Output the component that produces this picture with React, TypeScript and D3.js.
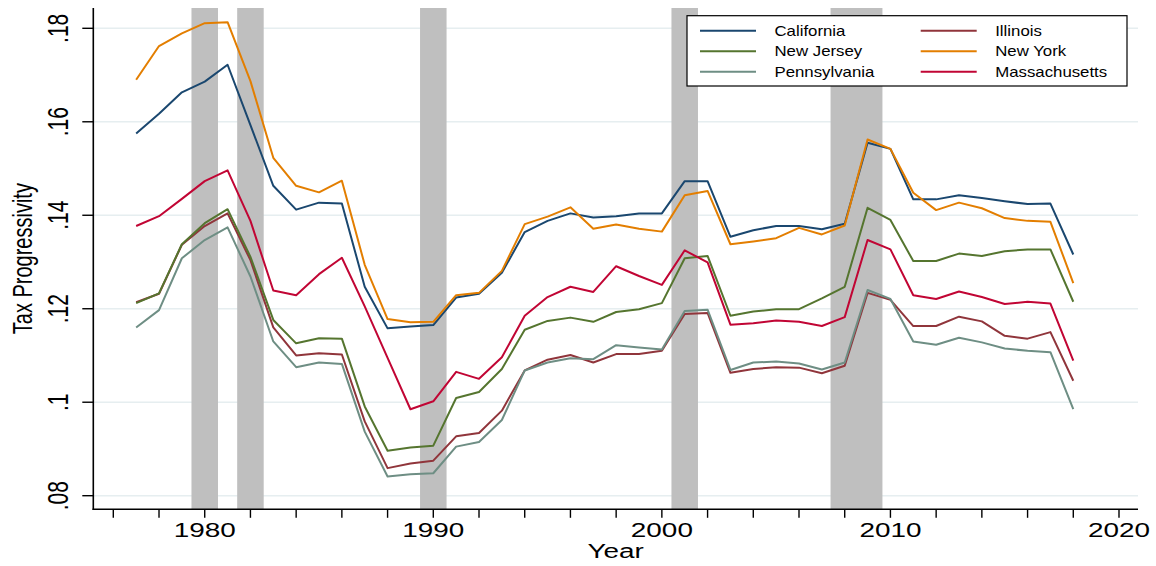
import React from "react";
import * as d3 from "d3";

const years: number[] = d3.range(1977, 2019);

const california = [
  0.1575, 0.1617, 0.1663, 0.1686, 0.1722, 0.1593, 0.1463, 0.1412, 0.1427, 0.1425,
  0.1247, 0.1158, 0.1162, 0.1165, 0.1224, 0.1232, 0.1277, 0.1364, 0.1388, 0.1404,
  0.1395, 0.1398, 0.1404, 0.1404, 0.1473, 0.1473, 0.1354, 0.1368, 0.1377, 0.1377,
  0.137, 0.1382, 0.1555, 0.1542, 0.1434, 0.1434, 0.1443, 0.1437, 0.143, 0.1424,
  0.1425, 0.1316,
];
const illinois = [
  0.1214, 0.1232, 0.1337, 0.1377, 0.1404, 0.1304, 0.116, 0.11, 0.1105, 0.1102,
  0.0959, 0.0859, 0.0869, 0.0875, 0.0927, 0.0934, 0.0982, 0.1068, 0.1091, 0.1101,
  0.1085, 0.1103, 0.1103, 0.111, 0.1189, 0.1191, 0.1063, 0.1071, 0.1075, 0.1074,
  0.1062, 0.1078, 0.1234, 0.1219, 0.1163, 0.1163, 0.1183, 0.1173, 0.1142, 0.1136,
  0.115, 0.1046,
];
const newJersey = [
  0.1212, 0.1233, 0.1338, 0.1383, 0.1413, 0.1311, 0.1176, 0.1126, 0.1137, 0.1136,
  0.0991, 0.0896, 0.0903, 0.0907, 0.1009, 0.1022, 0.1071, 0.1155, 0.1174, 0.1181,
  0.1172, 0.1193, 0.1199, 0.1212, 0.1308, 0.1313, 0.1185, 0.1194, 0.1199, 0.1199,
  0.1222, 0.1247, 0.1416, 0.139, 0.1302, 0.1302, 0.1318, 0.1313, 0.1323, 0.1327,
  0.1327, 0.1215,
];
const newYork = [
  0.169, 0.1762, 0.1789, 0.1811, 0.1813, 0.1687, 0.1523, 0.1463, 0.1449, 0.1474,
  0.1294, 0.1178, 0.1171, 0.1172, 0.1229, 0.1234, 0.1281, 0.1381, 0.1397, 0.1417,
  0.1371, 0.138, 0.1371, 0.1365, 0.1443, 0.1452, 0.1338, 0.1344, 0.1351, 0.1373,
  0.1359, 0.1378, 0.1562, 0.1542, 0.1448, 0.1411, 0.1427, 0.1415, 0.1394, 0.1388,
  0.1386, 0.1255,
];
const pennsylvania = [
  0.116, 0.1197, 0.1308, 0.1347, 0.1374, 0.1269, 0.113, 0.1075, 0.1085, 0.1082,
  0.0937, 0.0841, 0.0846, 0.0848, 0.0905, 0.0915, 0.0962, 0.1068, 0.1085, 0.1094,
  0.1092, 0.1122, 0.1117, 0.1113, 0.1195, 0.1198, 0.1069, 0.1085, 0.1087, 0.1083,
  0.107, 0.1085, 0.124, 0.1221, 0.113, 0.1123, 0.1138, 0.1128, 0.1115, 0.111,
  0.1107, 0.0985,
];
const massachusetts = [
  0.1377, 0.1398, 0.1435, 0.1473, 0.1496, 0.1388, 0.1239, 0.1229, 0.1274, 0.1309,
  0.1205, 0.1095, 0.0985, 0.1002, 0.1065, 0.105, 0.1096, 0.1185, 0.1225, 0.1247,
  0.1236, 0.1291, 0.127, 0.1251, 0.1325, 0.1299, 0.1166, 0.1169, 0.1175, 0.1172,
  0.1163, 0.1182, 0.1347, 0.1327, 0.1229, 0.1221, 0.1237, 0.1225, 0.121, 0.1215,
  0.1211, 0.1089,
];

const seriesNames = ["California", "Illinois", "New Jersey", "New York", "Pennsylvania", "Massachusetts"];
const seriesValues = [california, illinois, newJersey, newYork, pennsylvania, massachusetts];
const seriesColors = ["#1a476f", "#90353b", "#55752f", "#e37e00", "#6e8e84", "#c10534"];

const recessionStart = [1979.42, 1981.42, 1989.42, 2000.42, 2007.38];
const recessionEnd = [1980.58, 1982.58, 1990.58, 2001.58, 2009.65];

const yTicks = [0.08, 0.1, 0.12, 0.14, 0.16, 0.18];
const yTickLabels = [".08", ".1", ".12", ".14", ".16", ".18"];
const xMinorTicks = d3.range(1976, 2021, 2);
const xLabelTicks = [1980, 1990, 2000, 2010, 2020];

const FONT = "'Liberation Sans', Arial, Helvetica, sans-serif";

export default function App() {
  const W = 1156;
  const H = 566;
  const left = 93.3;
  const right = 1138;
  const top = 8;
  const bottom = 509.3;

  const x = d3.scaleLinear().domain([1976, 2020]).range([113.3, 1119]);
  const y = d3.scaleLinear().domain([0.08, 0.18]).range([495.7, 28.3]);

  const line = d3
    .line<number>()
    .x((_, i) => x(years[i]))
    .y((d) => y(d));

  const legendRows = [0, 1, 2];
  const legendRowY = [30.7, 51.3, 71.7];
  const legendColX = [700, 920.7];

  return (
    <svg
      width={W}
      height={H}
      style={{ position: "absolute", left: 0, top: 0, background: "#fff" }}
      fontFamily={FONT}
    >
      <rect x={0} y={0} width={W} height={H} fill="#ffffff" />
      {/* grid */}
      {yTicks.map((t) => (
        <line key={"g" + t} x1={left} x2={right} y1={y(t)} y2={y(t)} stroke="#e6eef0" strokeWidth={1.6} />
      ))}
      {/* recession bars */}
      {recessionStart.map((s, i) => (
        <rect
          key={"r" + i}
          x={x(s)}
          y={top}
          width={x(recessionEnd[i]) - x(s)}
          height={bottom - top}
          fill="#bfbfbf"
        />
      ))}
      {/* series */}
      {seriesValues.map((vals, i) => (
        <path
          key={seriesNames[i]}
          d={line(vals) || ""}
          fill="none"
          stroke={seriesColors[i]}
          strokeWidth={2}
          strokeLinejoin="round"
        />
      ))}
      {/* axes */}
      <line x1={left} x2={left} y1={top} y2={bottom + 0.8} stroke="#000" strokeWidth={1.6} />
      <line x1={left - 0.8} x2={right} y1={bottom} y2={bottom} stroke="#000" strokeWidth={1.6} />
      {yTicks.map((t, i) => (
        <g key={"yt" + t}>
          <line x1={left - 11} x2={left} y1={y(t)} y2={y(t)} stroke="#000" strokeWidth={1.4} />
          <text
            transform={`translate(68,${y(t)}) scale(1.4,1) rotate(-90)`}
            textAnchor="middle"
            fontSize={21}
            fill="#000"
          >
            {yTickLabels[i]}
          </text>
        </g>
      ))}
      {xMinorTicks.map((t) => (
        <line key={"xt" + t} x1={x(t)} x2={x(t)} y1={bottom} y2={bottom + 8.5} stroke="#000" strokeWidth={1.4} />
      ))}
      {xLabelTicks.map((t) => (
        <text
          key={"xl" + t}
          transform={`translate(${x(t)},537) scale(1.33,1)`}
          textAnchor="middle"
          fontSize={21}
          fill="#000"
        >
          {t}
        </text>
      ))}
      <text
        transform={`translate(${(left + right) / 2},558) scale(1.33,1)`}
        textAnchor="middle"
        fontSize={21}
        fill="#000"
      >
        Year
      </text>
      <text
        transform={`translate(32,${(top + bottom) / 2}) scale(1.35,1) rotate(-90)`}
        textAnchor="middle"
        fontSize={20}
        fill="#000"
      >
        Tax Progressivity
      </text>
      {/* legend */}
      <rect x={687} y={15.7} width={440} height={70.3} fill="#fff" stroke="#000" strokeWidth={1.2} />
      {legendRows.map((r) =>
        [0, 1].map((c) => {
          const idx = r * 2 + c;
          return (
            <g key={"lg" + idx}>
              <line
                x1={legendColX[c]}
                x2={legendColX[c] + 56}
                y1={legendRowY[r]}
                y2={legendRowY[r]}
                stroke={seriesColors[idx]}
                strokeWidth={2}
              />
              <text
                transform={`translate(${legendColX[c] + 74.5},${legendRowY[r] + 5}) scale(1.2,1)`}
                fontSize={14}
                fill="#000"
              >
                {seriesNames[idx]}
              </text>
            </g>
          );
        })
      )}
    </svg>
  );
}
